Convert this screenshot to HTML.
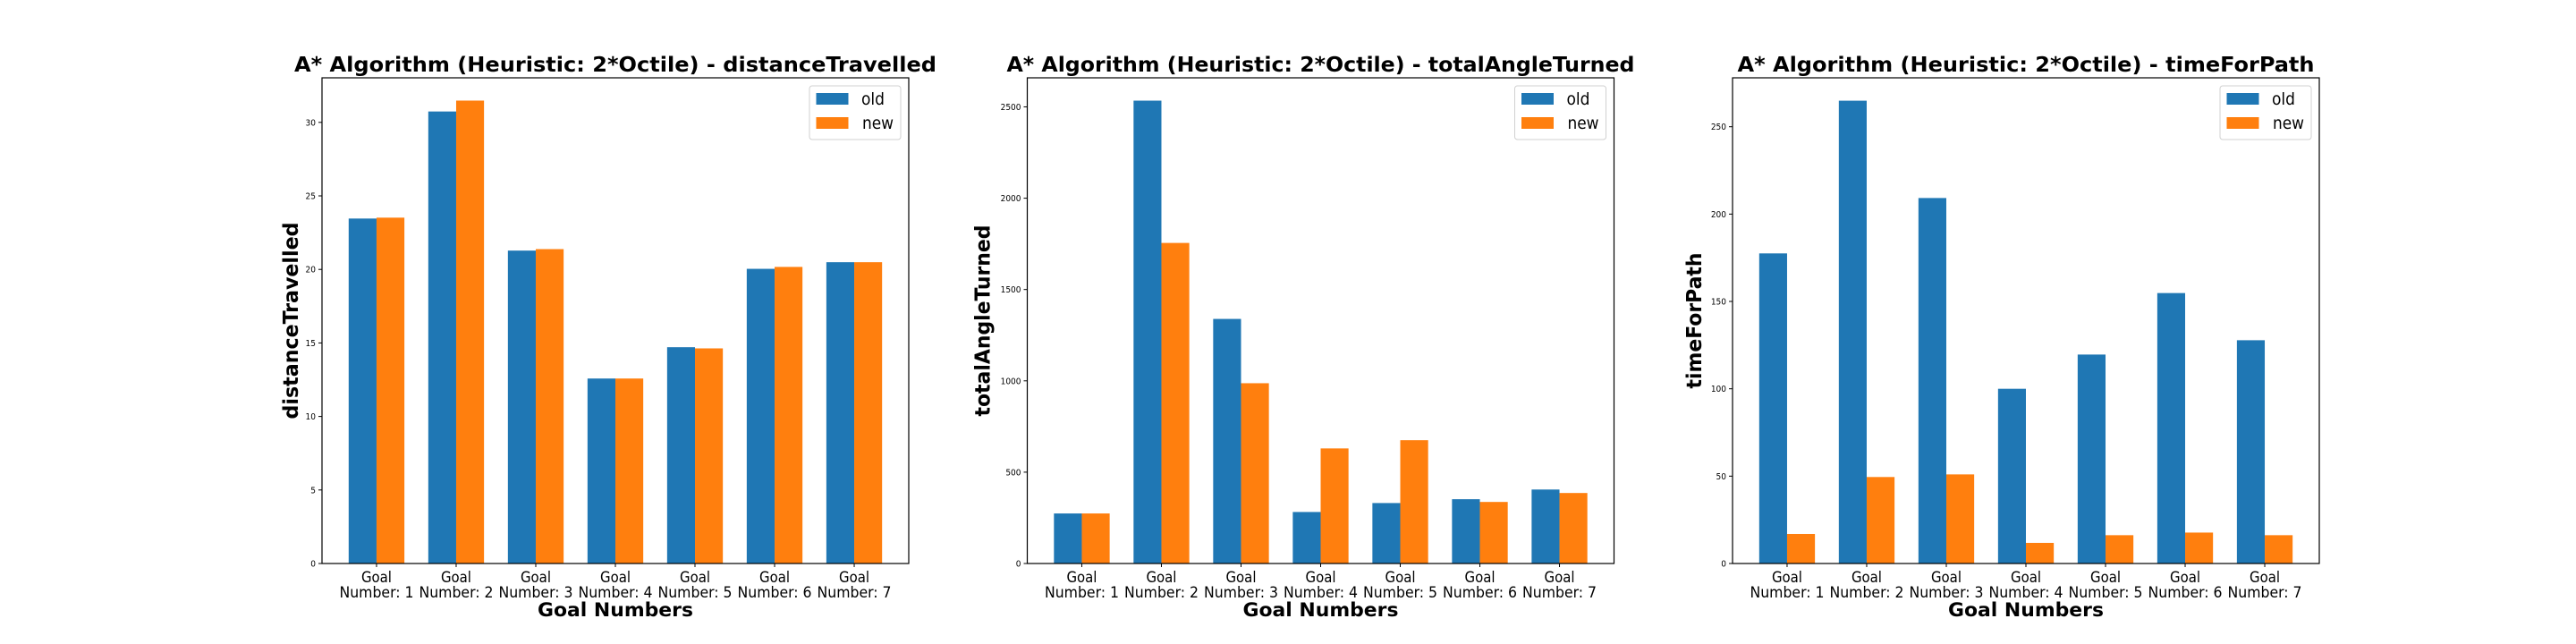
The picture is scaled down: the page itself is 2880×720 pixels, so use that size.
<!DOCTYPE html>
<html><head><meta charset="utf-8"><style>
html,body{margin:0;padding:0;background:#fff;}
svg{display:block;font-family:"DejaVu Sans Condensed","DejaVu Sans","Liberation Sans",sans-serif;}
</style></head><body>
<svg id="fig" width="2880" height="720" viewBox="0 0 2880 720" xmlns="http://www.w3.org/2000/svg"></svg>
<script>
const categories = ["1","2","3","4","5","6","7"];
const distOld = [23.46, 30.74, 21.28, 12.58, 14.71, 20.04, 20.49];
const distNew = [23.52, 31.48, 21.38, 12.58, 14.63, 20.17, 20.49];
const distTicks = [0,5,10,15,20,25,30];
const angleOld = [274, 2534, 1339, 282, 331, 352, 405];
const angleNew = [274, 1755, 987, 630, 675, 337, 386];
const angleTicks = [0,500,1000,1500,2000,2500];
const timeOld = [177.5, 264.9, 209.2, 100, 119.6, 154.8, 127.8];
const timeNew = [16.9, 49.5, 51.0, 11.8, 16.2, 17.7, 16.2];
const timeTicks = [0,50,100,150,200,250];
const metricNames = ["distanceTravelled","totalAngleTurned","timeForPath"];
const yMaxes = [33.03, 2659, 278];
const titleLens = [718, 702, 645];
const ylabLens = [220, 214, 152];
const ylabOffsets = [27, 42, 35];

const NS = "http://www.w3.org/2000/svg";
const svgEl = document.getElementById('fig');
function mk(tag, attrs, parent){
  const e = document.createElementNS(NS, tag);
  for (const k in attrs) e.setAttribute(k, attrs[k]);
  (parent||svgEl).appendChild(e);
  return e;
}
const charts = [
  {oldV: distOld, newV: distNew, ticks: distTicks},
  {oldV: angleOld, newV: angleNew, ticks: angleTicks},
  {oldV: timeOld, newV: timeNew, ticks: timeTicks}
];
const lefts = [360, 1148.5, 1937];
const axW = 656, axTop = 87, axBottom = 630;
charts.forEach((c, ci) => {
  const L = lefts[ci], R = L + axW;
  const name = metricNames[ci];
  const g = mk('g', {});
  
  
  const x = v => L + (v + 0.685) / 7.37 * axW;
  const y = v => axBottom - v / yMaxes[ci] * (axBottom - axTop);
  const bw = 0.35 / 7.37 * axW;
  c.oldV.forEach((v, i) => {
    const r = mk('rect', {x: x(i) - bw, y: y(v), width: bw, height: axBottom - y(v), fill: '#1f77b4'}, g);
    
    
  });
  c.newV.forEach((v, i) => {
    const r = mk('rect', {x: x(i), y: y(v), width: bw, height: axBottom - y(v), fill: '#ff7f0e'}, g);
    
    
  });
  const fr = mk('rect', {x: L, y: axTop, width: axW, height: axBottom - axTop, fill: 'none', stroke: '#000', 'stroke-width': 1.2}, g);
  
  
  c.ticks.forEach(t => {
    mk('line', {x1: L - 4, x2: L, y1: y(t), y2: y(t), stroke: '#000', 'stroke-width': 1}, g);
    const tx = mk('text', {x: L - 7, y: y(t) + 3.5, 'text-anchor': 'end', 'font-size': 10, fill: '#000'}, g);
    
    
    tx.textContent = String(t);
  });
  categories.forEach((cat, i) => {
    mk('line', {x1: x(i), x2: x(i), y1: axBottom, y2: axBottom + 4, stroke: '#000', 'stroke-width': 1}, g);
    const tx = mk('text', {x: x(i), y: 651, 'text-anchor': 'middle', 'font-size': 17, fill: '#000'}, g);
    
    
    const t1 = mk('tspan', {x: x(i), y: 651, textLength: 34, lengthAdjust: 'spacingAndGlyphs'}, tx); t1.textContent = 'Goal';
    const t2 = mk('tspan', {x: x(i), y: 668, textLength: 83, lengthAdjust: 'spacingAndGlyphs'}, tx); t2.textContent = 'Number: ' + cat;
  });
  const ti = mk('text', {x: (L + R) / 2, y: 80, 'text-anchor': 'middle', 'font-size': 23, 'font-weight': 'bold', textLength: titleLens[ci], lengthAdjust: 'spacingAndGlyphs'}, g);
  
  
  ti.textContent = 'A* Algorithm (Heuristic: 2*Octile) - ' + name;
  const xl = mk('text', {x: (L + R) / 2, y: 689, 'text-anchor': 'middle', 'font-size': 21, 'font-weight': 'bold', textLength: 174, lengthAdjust: 'spacingAndGlyphs'}, g);
  
  
  xl.textContent = 'Goal Numbers';
  const yl = mk('text', {x: 0, y: 0, 'text-anchor': 'middle', 'font-size': 23, 'font-weight': 'bold', textLength: ylabLens[ci], lengthAdjust: 'spacingAndGlyphs', transform: 'translate(' + (L - ylabOffsets[ci]) + ',' + ((axTop + axBottom) / 2) + ') rotate(-90)'}, g);
  
  
  yl.textContent = name;
  const lg = mk('g', {}, g);
  
  
  const lx = R - 111;
  mk('rect', {x: lx, y: 96, width: 102, height: 60, rx: 3, fill: '#fff', 'fill-opacity': 0.8, stroke: '#d0d0d0', 'stroke-width': 1}, lg);
  mk('rect', {x: lx + 7.5, y: 104, width: 36, height: 13, fill: '#1f77b4'}, lg);
  mk('rect', {x: lx + 7.5, y: 131, width: 36, height: 13, fill: '#ff7f0e'}, lg);
  const o = mk('text', {x: lx + 58, y: 117, 'font-size': 19, textLength: 26, lengthAdjust: 'spacingAndGlyphs'}, lg);
  
  
  o.textContent = 'old';
  const n = mk('text', {x: lx + 59, y: 144, 'font-size': 19, textLength: 35, lengthAdjust: 'spacingAndGlyphs'}, lg);
  
  
  n.textContent = 'new';
});
</script>
</body></html>
